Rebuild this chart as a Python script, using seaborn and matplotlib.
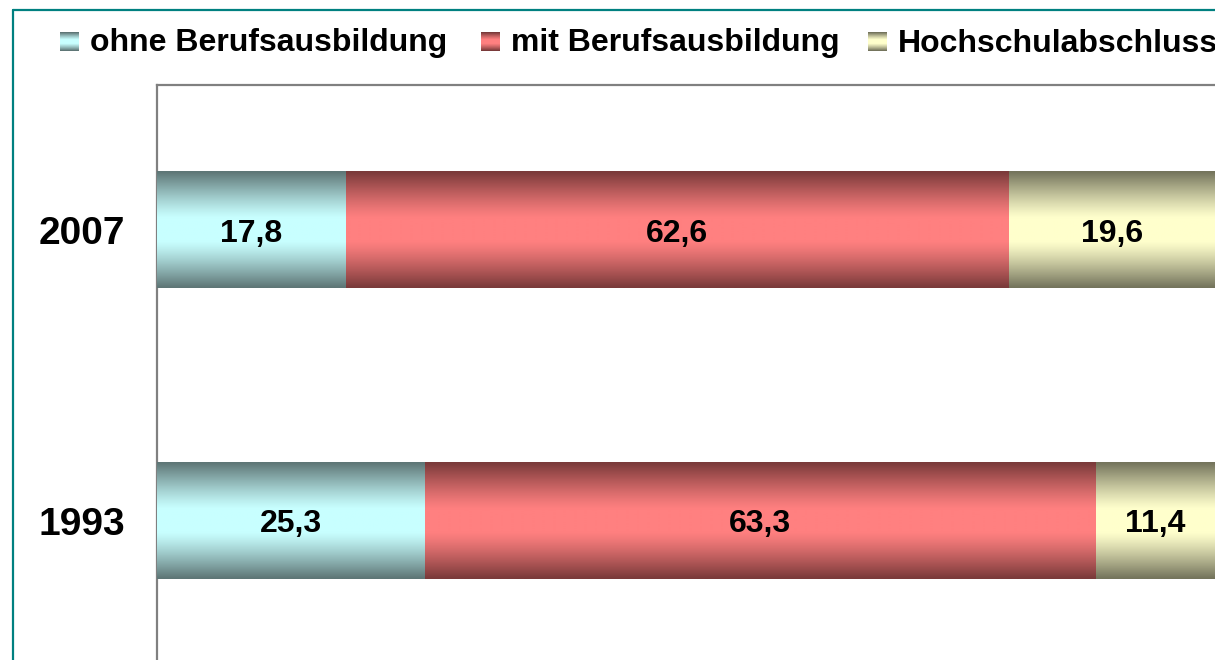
import numpy as np
import pandas as pd
import matplotlib.pyplot as plt
import seaborn as sns
from matplotlib.lines import Line2D

# data
years = ["2007", "1993"]
ohne = [17.8, 25.3]
mit = [62.6, 63.3]
hoch = [19.6, 11.4]
labels = ["ohne Berufsausbildung", "mit Berufsausbildung", "Hochschulabschluss"]

# (light centre, dark edge) of each bar gradient
colors = [("#C8FFFF", "#5E7676"), ("#FF8080", "#7A3A3A"), ("#FFFFCC", "#74745C")]

sns.set_style("white")
plt.rcParams['font.family'] = ['Liberation Sans', 'DejaVu Sans']
plt.rcParams['text.color'] = 'black'
plt.rcParams['ytick.color'] = 'black'

W, H = 1215, 660
fig = plt.figure(figsize=(W / 100, H / 100), dpi=100)
ax = fig.add_axes([157 / W, -6 / H, 1059 / W, 581 / H])


def gradient(light, dark, n=64):
    light = np.array(plt.matplotlib.colors.to_rgb(light))
    dark = np.array(plt.matplotlib.colors.to_rgb(dark))
    t = np.linspace(0, 1, n)
    d = np.abs(t - 0.5) * 2
    w = np.clip((d - 0.2) / 0.8, 0, 1) ** 1.2
    img = light[None, :] * (1 - w[:, None]) + dark[None, :] * w[:, None]
    return img[:, None, :]


df = pd.DataFrame({"Jahr": years, labels[0]: ohne, labels[1]: mit, labels[2]: hoch})
starts = df[labels].cumsum(axis=1) - df[labels]
ends = df[labels].cumsum(axis=1)

# stacked bars: draw cumulative totals from the back
for i in reversed(range(len(labels))):
    n0 = len(ax.patches)
    sns.barplot(x=ends[labels[i]], y=df["Jahr"], order=years, orient="h",
                width=0.4, color=colors[i][0], saturation=1, ax=ax)
    img = gradient(*colors[i])
    for k, p in enumerate(ax.patches[n0:]):
        x0 = starts[labels[i]].iloc[k]
        x1 = ends[labels[i]].iloc[k]
        y0, h = p.get_y(), p.get_height()
        ax.imshow(img, extent=[x0, x1, y0 + h, y0], aspect="auto",
                  interpolation="bilinear", zorder=3)

# value labels
for lab in labels:
    for k in range(len(years)):
        v = df[lab].iloc[k]
        xc = starts[lab].iloc[k] + v / 2
        ax.text(xc, k, f"{v:.1f}".replace(".", ","), ha="center", va="center_baseline",
                fontsize=23, fontweight="bold", color="black", zorder=5)

ax.set_xlim(0, 100)
ax.set_ylim(1.5, -0.5)
ax.set_xticks([])
ax.set_xlabel("")
ax.set_ylabel("")
ax.tick_params(axis="y", length=0, pad=23, labelsize=28, labelcolor="black")
for t in ax.get_yticklabels():
    t.set_fontweight("bold")
for s in ["left", "top"]:
    ax.spines[s].set_color("#808080")
    ax.spines[s].set_linewidth(1.6)
ax.spines["right"].set_visible(False)
ax.spines["bottom"].set_visible(False)

# legend drawn by hand so the markers can carry the gradient
leg_x = [60, 481, 868]
for i, lab in enumerate(labels):
    lax = fig.add_axes([leg_x[i] / W, 1 - 51 / H, 19 / W, 19 / H])
    lax.imshow(gradient(*colors[i], n=19), aspect="auto", interpolation="nearest")
    lax.axis("off")
    fig.text((leg_x[i] + 30) / W, 1 - 51.5 / H, lab, ha="left", va="baseline",
             fontsize=23, fontweight="bold", color="black")

# teal frame around the chart
fig.add_artist(Line2D([12.5 / W, 12.5 / W], [0, 1 - 10 / H], color="#008080", lw=1.6))
fig.add_artist(Line2D([12.5 / W, 1], [1 - 10 / H, 1 - 10 / H], color="#008080", lw=1.6))

fig.savefig("out.png", dpi=100)
